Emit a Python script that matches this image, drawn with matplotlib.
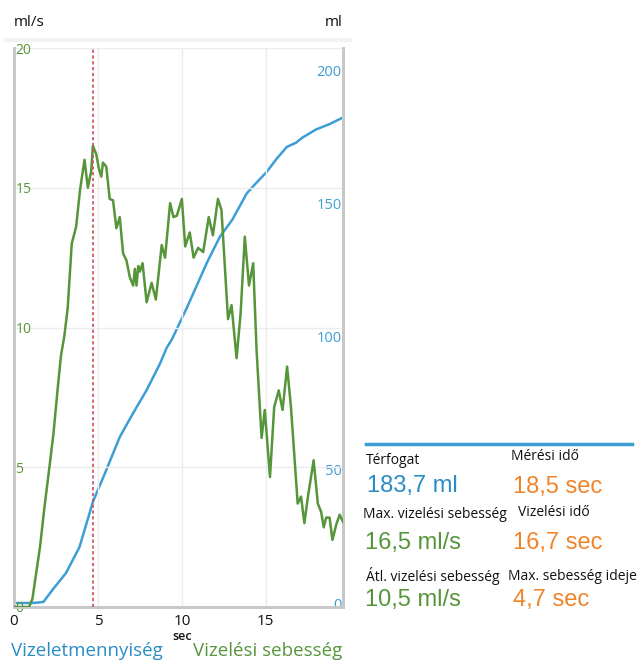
import matplotlib.pyplot as plt
from matplotlib.lines import Line2D

# Vizelési sebesség (ml/s)
flow_t = [0, 0.9, 1.1, 1.55, 1.8, 2.14, 2.35, 2.6, 2.8, 3.0, 3.2, 3.44, 3.7, 3.93, 4.2, 4.4, 4.6, 4.7,
          4.9, 5.05, 5.2, 5.3, 5.5, 5.7, 5.9, 6.1, 6.3, 6.5, 6.7, 6.9, 7.1, 7.2, 7.3, 7.4, 7.5,
          7.66, 7.9, 8.2, 8.45, 8.8, 9.0, 9.3, 9.5, 9.7, 10.0, 10.2, 10.47, 10.7, 10.97, 11.27,
          11.6, 11.85, 12.15, 12.36, 12.75, 12.96, 13.26, 13.5, 13.75, 14.0, 14.25, 14.45, 14.75,
          14.94, 15.25, 15.5, 15.77, 16.0, 16.27, 16.5, 16.9, 17.1, 17.3, 17.5, 17.85, 18.1,
          18.3, 18.45, 18.6, 18.8, 18.97, 19.2, 19.4, 19.6]
flow_v = [0, 0, 0.3, 2.15, 3.5, 5.15, 6.2, 7.8, 9.0, 9.7, 10.7, 13.0, 13.6, 14.9, 16.0, 15.0, 15.6, 16.5,
          16.2, 15.7, 15.4, 15.9, 15.75, 14.6, 14.55, 13.55, 13.95, 12.65, 12.4, 11.8, 11.5, 12.1,
          11.5, 12.2, 12.0, 12.3, 10.9, 11.6, 11.0, 12.95, 12.5, 14.45, 13.95, 14.0, 14.6, 12.9,
          13.4, 12.5, 12.85, 12.7, 13.95, 13.3, 14.6, 14.2, 10.3, 10.8, 8.9, 10.5, 13.25, 11.5,
          12.3, 9.2, 6.05, 7.05, 4.65, 7.15, 7.75, 7.05, 8.6, 7.15, 3.7, 3.95, 3.0, 3.9, 5.25, 3.7,
          3.4, 2.85, 3.2, 3.2, 2.4, 2.95, 3.3, 3.05]

# Vizeletmennyiség (ml)
vol_t = [0, 1.0, 1.3, 1.75, 2.3, 3.1, 3.9, 4.7, 5.5, 6.3, 7.1, 7.9, 8.7, 9.1, 9.4, 10.3, 11.5,
         12.26, 13.0, 13.87, 14.45, 15.05, 15.65, 16.25, 16.8, 17.2, 18.0, 18.8, 19.6]
vol_v = [0, 0, 0.1, 0.4, 5, 11.3, 21, 38, 50, 62.4, 71.4, 80, 90, 96, 99, 111, 128,
         137.6, 144, 154, 158, 162, 167, 171.4, 173, 175, 178, 180, 182.5]

max_flow_time = 4.7
x_ticks = [0, 5, 10, 15]
left_ticks = [0, 5, 10, 15, 20]
right_ticks = [0, 50, 100, 150, 200]

stat_labels = ["Térfogat", "Mérési idő", "Max. vizelési sebesség", "Vizelési idő",
               "Átl. vizelési sebesség", "Max. sebesség ideje"]
stat_values = ["183,7 ml", "18,5 sec", "16,5 ml/s", "16,7 sec", "10,5 ml/s", "4,7 sec"]

GREEN = "#56953a"
BLUE = "#3d9ed6"
BLUE_TXT = "#2a8cc4"
ORANGE = "#f0842a"
GRID = "#ececec"
SPINE = "#c8c8c8"

value_colors = [BLUE_TXT, ORANGE, GREEN, ORANGE, GREEN, ORANGE]

plt.rcParams['font.family'] = ['Open Sans', 'DejaVu Sans']

fig = plt.figure(figsize=(6.4, 6.62), dpi=100)
ax = fig.add_axes([14 / 640, 1 - 607 / 662, 329 / 640, 559 / 662])
ax2 = ax.twinx()

ax.set_xlim(0, 19.6)
ax.set_ylim(0, 20)
ax2.set_ylim(-1.5, 208.6)

ax.set_xticks(x_ticks)
ax.set_yticks(left_ticks)
ax2.set_yticks(right_ticks)
ax.grid(True, color=GRID, lw=1)

ax2.plot(vol_t, vol_v, color=BLUE, lw=1.8)
ax.plot(flow_t, flow_v, color=GREEN, lw=1.8, zorder=3)
ax.set_zorder(ax2.get_zorder() + 1)
ax.patch.set_visible(False)
ax.axvline(max_flow_time, color="#c9505e", lw=1.2, ls=(0, (2, 1.5)), zorder=4)

for a in (ax, ax2):
    a.spines['top'].set_visible(False)
    for s in ('left', 'right', 'bottom'):
        a.spines[s].set_color(SPINE)
        a.spines[s].set_linewidth(2)

ax.tick_params(axis='x', length=0, labelsize=11, colors="#111111", pad=5)
ax.tick_params(axis='y', length=0, labelsize=10, labelcolor=GREEN, pad=-1)
for lbl in ax.get_yticklabels():
    lbl.set_horizontalalignment('left')
ax2.tick_params(axis='y', length=0, labelsize=10.5, labelcolor=BLUE, pad=-1)
for lbl in ax2.get_yticklabels():
    lbl.set_horizontalalignment('right')

# fejléc
fig.text(14 / 640, 1 - 22 / 662, "ml/s", fontsize=11, va='center', ha='left', color="#111111")
fig.text(343 / 640, 1 - 22 / 662, "ml", fontsize=11, va='center', ha='right', color="#111111")
fig.add_artist(Line2D([6 / 640, 350 / 640], [1 - 40 / 662, 1 - 40 / 662],
                      color="#f2f2f2", lw=3, transform=fig.transFigure))

fig.text(182 / 640, 1 - 637 / 662, "sec", fontsize=9, ha='center', va='center', color="#111111",
         fontweight='semibold')
fig.text(11 / 640, 1 - 651 / 662, "Vizeletmennyiség", fontsize=13.5, ha='left', va='center', color=BLUE_TXT)
fig.text(193 / 640, 1 - 651 / 662, "Vizelési sebesség", fontsize=13.5, ha='left', va='center', color=GREEN)

# összesítő
fig.add_artist(Line2D([366 / 640, 632 / 640], [1 - 444 / 662, 1 - 444 / 662],
                      color=BLUE, lw=2.5, transform=fig.transFigure))
label_pos = [(366, 461), (511, 457), (363, 514), (518, 513), (366, 576), (508, 576)]
value_pos = [(367, 486), (513, 487), (365, 543), (513, 543), (365, 600), (513, 600)]
for i in range(len(stat_labels)):
    lx, ly = label_pos[i]
    vx, vy = value_pos[i]
    fig.text(lx / 640, 1 - ly / 662, stat_labels[i], fontsize=10, ha='left', va='center',
             color="#111111")
    fig.text(vx / 640, 1 - vy / 662, stat_values[i], fontsize=17, ha='left', va='center',
             color=value_colors[i], family=['Liberation Sans', 'DejaVu Sans'])

fig.savefig("out.png", dpi=100)
